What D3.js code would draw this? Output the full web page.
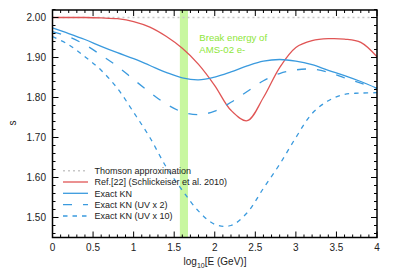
<!DOCTYPE html>
<html>
<head>
<meta charset="utf-8">
<script src="https://cdn.jsdelivr.net/npm/d3@7"></script>
<style>
  body { margin: 0; background: #fff; }
  svg text { font-family: "Liberation Sans", Arial, sans-serif; }
</style>
</head>
<body>
<div id="chart"></div>
<script>
// log10 energy grid shared by all curves
var logE = [0, 0.2, 0.4, 0.6, 0.8, 1.0, 1.2, 1.4, 1.6, 1.8, 2.0, 2.2, 2.4, 2.6, 2.8, 3.0, 3.2, 3.4, 3.6, 3.8, 4.0];

var thomson = [2, 2, 2, 2, 2, 2, 2, 2, 2, 2, 2, 2, 2, 2, 2, 2, 2, 2, 2, 2, 2];
var ref22 = [2.000, 2.000, 2.000, 1.999, 1.997, 1.990, 1.976, 1.953, 1.923, 1.883, 1.830, 1.768, 1.742, 1.800, 1.875, 1.925, 1.942, 1.947, 1.946, 1.938, 1.902];
var exactKN = [1.974, 1.960, 1.945, 1.928, 1.912, 1.897, 1.880, 1.863, 1.849, 1.844, 1.851, 1.864, 1.879, 1.891, 1.895, 1.891, 1.882, 1.868, 1.855, 1.840, 1.823];
var knUV2 = [1.965, 1.952, 1.932, 1.906, 1.878, 1.845, 1.813, 1.784, 1.764, 1.757, 1.766, 1.788, 1.815, 1.842, 1.860, 1.869, 1.871, 1.863, 1.849, 1.836, 1.823];
var knUV10 = [1.952, 1.932, 1.902, 1.868, 1.823, 1.763, 1.700, 1.627, 1.568, 1.516, 1.483, 1.480, 1.512, 1.573, 1.633, 1.700, 1.760, 1.792, 1.808, 1.811, 1.812];

var seriesNames = ["Thomson approximation", "Ref.[22] (Schlickeiser et al. 2010)", "Exact KN", "Exact KN (UV x 2)", "Exact KN (UV x 10)"];

var xTicks = [0, 0.5, 1, 1.5, 2, 2.5, 3, 3.5, 4];
var yTicks = [1.5, 1.6, 1.7, 1.8, 1.9, 2.0];
var band = [1.57, 1.67];

var width = 399, height = 279;
var margin = {top: 10, right: 22, bottom: 41.5, left: 52.5};

var x = d3.scaleLinear().domain([0, 4]).range([margin.left, width - margin.right]);
var y = d3.scaleLinear().domain([1.45, 2.0188]).range([height - margin.bottom, margin.top]);

var svg = d3.select("#chart").append("svg")
  .attr("width", width)
  .attr("height", height);

// break energy band
svg.append("rect")
  .attr("x", x(band[0]))
  .attr("y", margin.top)
  .attr("width", x(band[1]) - x(band[0]))
  .attr("height", y(1.45) - margin.top)
  .attr("fill", "#c8f7a0");

svg.append("text")
  .attr("x", x(1.81)).attr("y", 40.5)
  .attr("fill", "#8ee63a").attr("font-size", 9.6)
  .text("Break energy of");
svg.append("text")
  .attr("x", x(1.81)).attr("y", 52.5)
  .attr("fill", "#8ee63a").attr("font-size", 9.6)
  .text("AMS-02 e-");

var styles = [
  {vals: thomson, color: "#c8c8c8", dash: "2,3", w: 1.5},
  {vals: ref22, color: "#e05555", dash: null, w: 1.3},
  {vals: exactKN, color: "#3a9ade", dash: null, w: 1.3},
  {vals: knUV2, color: "#3a9ade", dash: "9,11", w: 1.3},
  {vals: knUV10, color: "#3a9ade", dash: "4.5,5", w: 1.3}
];

var line = d3.line()
  .x(function(d) { return x(d[0]); })
  .y(function(d) { return y(d[1]); })
  .curve(d3.curveCatmullRom.alpha(0.5));

styles.forEach(function(s) {
  svg.append("path")
    .datum(logE.map(function(e, i) { return [e, s.vals[i]]; }))
    .attr("d", line)
    .attr("fill", "none")
    .attr("stroke", s.color)
    .attr("stroke-width", s.w)
    .attr("stroke-dasharray", s.dash);
});

// frame with inward ticks
var frame = svg.append("g").attr("stroke", "#000").attr("fill", "none");
frame.append("rect")
  .attr("x", x(0)).attr("y", y(2.0188))
  .attr("width", x(4) - x(0)).attr("height", y(1.45) - y(2.0188))
  .attr("stroke-width", 1.5);

var xMinor = d3.range(0, 4.001, 0.1);
var yMinor = d3.range(1.46, 2.02, 0.02);

xMinor.forEach(function(v) {
  var major = Math.abs(v * 2 - Math.round(v * 2)) < 1e-6;
  var len = major ? 6 : 3;
  frame.append("line").attr("x1", x(v)).attr("x2", x(v))
    .attr("y1", y(1.45)).attr("y2", y(1.45) - len).attr("stroke-width", 1);
  frame.append("line").attr("x1", x(v)).attr("x2", x(v))
    .attr("y1", y(2.0188)).attr("y2", y(2.0188) + len).attr("stroke-width", 1);
});
yMinor.forEach(function(v) {
  var major = Math.abs(v * 10 - Math.round(v * 10)) < 1e-6;
  var len = major ? 6 : 3;
  frame.append("line").attr("y1", y(v)).attr("y2", y(v))
    .attr("x1", x(0)).attr("x2", x(0) + len).attr("stroke-width", 1);
  frame.append("line").attr("y1", y(v)).attr("y2", y(v))
    .attr("x1", x(4)).attr("x2", x(4) - len).attr("stroke-width", 1);
});

// tick labels
svg.selectAll(".xt").data(xTicks).enter().append("text")
  .attr("x", function(d) { return x(d); })
  .attr("y", 251)
  .attr("text-anchor", "middle")
  .attr("font-size", 10)
  .attr("fill", "#222")
  .text(function(d) { return d; });

svg.selectAll(".yt").data(yTicks).enter().append("text")
  .attr("x", 46)
  .attr("y", function(d) { return y(d) + 3.6; })
  .attr("text-anchor", "end")
  .attr("font-size", 10)
  .attr("fill", "#222")
  .text(function(d) { return d3.format(".2f")(d); });

// axis titles
var xl = svg.append("text")
  .attr("x", 215).attr("y", 265)
  .attr("text-anchor", "middle")
  .attr("font-size", 10)
  .attr("fill", "#222");
xl.append("tspan").text("log");
xl.append("tspan").attr("font-size", 7).attr("dy", 3).text("10");
xl.append("tspan").attr("dy", -3).text("[E (GeV)]");

svg.append("text")
  .attr("transform", "translate(16,123) rotate(-90)")
  .attr("text-anchor", "middle")
  .attr("font-size", 10)
  .attr("fill", "#222")
  .text("s");

// legend
var legend = svg.append("g");
var rowY = [170.7, 182, 193.3, 204.6, 216];
seriesNames.forEach(function(name, i) {
  legend.append("line")
    .attr("x1", 63).attr("x2", 88)
    .attr("y1", rowY[i]).attr("y2", rowY[i])
    .attr("stroke", styles[i].color)
    .attr("stroke-width", styles[i].w)
    .attr("stroke-dasharray", styles[i].dash);
  legend.append("text")
    .attr("x", 94.5).attr("y", rowY[i] + 3.2)
    .attr("font-size", 9)
    .attr("fill", "#222")
    .text(name);
});
</script>
</body>
</html>
